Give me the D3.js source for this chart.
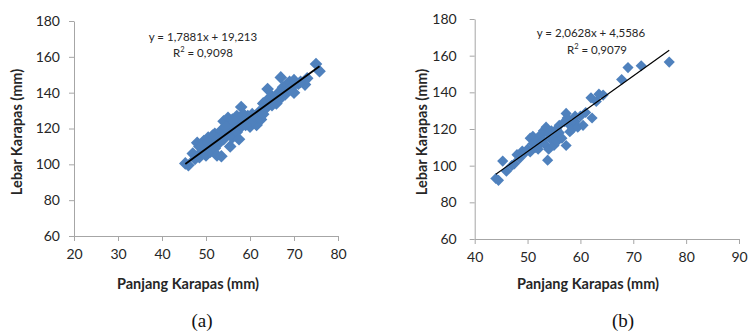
<!DOCTYPE html>
<html>
<head>
<meta charset="utf-8">
<script src="https://cdn.jsdelivr.net/npm/d3@7"></script>
<style>
  html, body { margin: 0; padding: 0; background: #fff; }
  svg { display: block; }
  text { font-family: Lato, "Open Sans", sans-serif; }
</style>
</head>
<body>
<svg id="chart" width="756" height="336"></svg>
<script>
// ---------- data ----------
const xA = [45.3,46,47.5,48,48.5,48.5,49,49.5,50,50,50.5,51,51,51.5,52,52,52.5,53,53,53.5,53.5,54,54,54.5,55,55,55.5,55.5,56,56,56.5,57,57,57.5,57.5,58,58,58.5,59,59.5,60,60,60.5,61,61.5,62,62.5,63,63.5,64,64,64.5,65,65.5,66,66.5,67,67.5,68,68.5,69,70,70,71,72.5,75,75.8,49,51.5,52.5,54.5,56.5,58.5,60.5,62,63,66,68,69.5,71.5,73,59,61,62.5,63,65,67,69,47,50.5];
const yA = [100.5,99.5,103,112,110,104,107,113,109,105,115,111,107,113,117,109,105,112,115,104.5,119,124,114,117,126,121,110,118,125,115,121,127,118,114,124,132,121,128,125,127,121,126,128,124,122,129,128,131,131,142,136,134,138,137,134,140,148.5,143,141,145,146,140,147,145,144.5,156,152,110,116,114,121,124,124,124,126,134,138,139,143,146,148,122,127,125,128,133,137,142,106,112];
const xB = [44,44.5,45.3,46,47,47.5,48,48.5,49,49.5,50,50.5,50.5,51,51,51.5,52,52,52.5,52.5,53,53,53.5,53.5,53.8,54,54,54.5,54.5,55,55,55.5,55.5,56,56,56.5,57,57.3,57.3,57.5,58,58,58.5,59,59,59.5,60,60.5,61,62,62.2,63,63.5,64.3,67.8,69,71.5,76.8];
const yB = [93,92,102.5,97,100,101,106,104,108,107,109,107.5,115,116,112,110,114,109,117,112,119,114,121,111,103,117,109,119,114,116,111,120,113,118,122,115,124,128.5,111,126,118.5,122,120,124,127,121,127,122,129,137,126,135,139,138.5,147,153.5,154.5,156.5];
const xTicksA = [20,30,40,50,60,70,80];
const xTicksB = [40,50,60,70,80,90];
const yTicks = [60,80,100,120,140,160,180];
const slopes = [1.7881, 2.0628];
const intercepts = [19.213, 4.5586];
const eqLabels = ["y = 1,7881x + 19,213", "y = 2,0628x + 4,5586"];
const r2Labels = ["0,9098", "0,9079"];
const captions = ["(a)", "(b)"];
const xTitle = "Panjang Karapas (mm)";
const yTitle = "Lebar Karapas (mm)";

// ---------- layout ----------
const panels = [
  { xs: xA, ys: yA, xt: xTicksA, xDom: [20, 80], left: 74, right: 338, top: 21, bottom: 236,
    yPad: 9, xTitleX: 188, yTitleX: 18, capX: 202, eqX: 203, eqY: 38, r2X: 203, r2Y: 54, lw: 1.8, ms: 80 },
  { xs: xB, ys: yB, xt: xTicksB, xDom: [40, 90], left: 474.7, right: 739, top: 19, bottom: 239,
    yPad: 13, xTitleX: 588, yTitleX: 423, capX: 623, eqX: 591, eqY: 34, r2X: 597, r2Y: 51, lw: 1.2, ms: 62 }
];

const svg = d3.select("#chart");
const axisColor = "#a6a6a6";
const textColor = "#262626";
const markColor = "#4F81BD";

panels.forEach((p, i) => {
  const x = d3.scaleLinear().domain(p.xDom).range([p.left, p.right]);
  const y = d3.scaleLinear().domain([60, 180]).range([p.bottom, p.top]);
  const g = svg.append("g");

  const xAxis = g.append("g").attr("transform", `translate(0,${p.bottom})`)
    .call(d3.axisBottom(x).tickValues(p.xt).tickSize(5).tickPadding(8).tickSizeOuter(0));
  const yAxis = g.append("g").attr("transform", `translate(${p.left},0)`)
    .call(d3.axisLeft(y).tickValues(yTicks).tickSize(5).tickPadding(p.yPad).tickSizeOuter(0));
  [xAxis, yAxis].forEach(a => {
    a.selectAll("path, line").attr("stroke", axisColor).attr("stroke-width", 1);
    a.selectAll("text").attr("fill", textColor).style("font-size", "14px")
      .style("font-family", "Lato, sans-serif");
  });

  // points
  const pts = p.xs.map((v, k) => [v, p.ys[k]]);
  g.append("g").selectAll("path").data(pts).join("path")
    .attr("d", d3.symbol().type(d3.symbolSquare).size(p.ms))
    .attr("transform", d => `translate(${x(d[0])},${y(d[1])}) rotate(45)`)
    .attr("fill", markColor);

  // trend line
  const ext = d3.extent(p.xs);
  const line = d3.line().x(d => x(d)).y(d => y(slopes[i] * d + intercepts[i]));
  g.append("path").attr("d", line(ext)).attr("stroke", "#000").attr("stroke-width", p.lw).attr("fill", "none");

  // equation
  g.append("text").attr("x", p.eqX).attr("y", p.eqY).attr("text-anchor", "middle")
    .attr("dominant-baseline", "middle").attr("fill", textColor).style("font-size", "11.5px")
    .text(eqLabels[i]);
  const r2 = g.append("text").attr("x", p.r2X).attr("y", p.r2Y).attr("text-anchor", "middle")
    .attr("dominant-baseline", "middle").attr("fill", textColor).style("font-size", "11.5px");
  r2.append("tspan").text("R");
  r2.append("tspan").attr("dy", -4).style("font-size", "7.5px").text("2");
  r2.append("tspan").attr("dy", 4).text(" = " + r2Labels[i]);

  // axis titles
  g.append("text").attr("x", p.xTitleX).attr("y", 285).attr("text-anchor", "middle")
    .attr("dominant-baseline", "middle").attr("fill", textColor)
    .style("font-size", "14.5px").style("font-weight", "bold").text(xTitle);
  g.append("text").attr("transform", `translate(${p.yTitleX},132) rotate(-90)`)
    .attr("text-anchor", "middle").attr("dominant-baseline", "middle").attr("fill", textColor)
    .style("font-size", "14.5px").style("font-weight", "bold").text(yTitle);

  // caption
  g.append("text").attr("x", p.capX).attr("y", 323).attr("text-anchor", "middle")
    .attr("dominant-baseline", "middle").attr("fill", "#111")
    .style("font-family", "'Liberation Serif', serif").style("font-size", "19px").text(captions[i]);
});
</script>
</body>
</html>
